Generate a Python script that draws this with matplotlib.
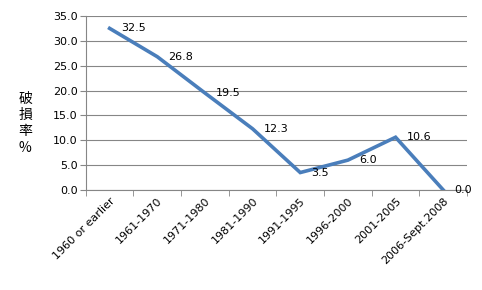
import numpy as np
import matplotlib.pyplot as plt

plt.rcParams['font.family'] = ['Noto Sans CJK TC', 'DejaVu Sans']

periods = ['1960 or earlier', '1961-1970', '1971-1980', '1981-1990',
           '1991-1995', '1996-2000', '2001-2005', '2006-Sept.2008']
rate = [32.5, 26.8, 19.5, 12.3, 3.5, 6.0, 10.6, 0.0]
yticks = [0, 5, 10, 15, 20, 25, 30, 35]

fig = plt.figure(figsize=(4.82, 2.9), dpi=100)
ax = fig.add_axes([0.178, 0.345, 0.791, 0.6])

x = np.arange(len(periods))
ax.plot(x, rate, color='#4A7EBB', lw=2.6, solid_joinstyle='miter', zorder=3)
for xi, v in zip(x, rate):
    ax.annotate(f'{v:.1f}', (xi, v), xytext=(8, 0), textcoords='offset points',
                ha='left', va='center', fontsize=8, family='DejaVu Sans', zorder=4)

ax.set_xlim(-0.5, len(periods) - 0.5)
ax.set_ylim(0, 35)
ax.set_yticks(yticks)
ax.set_yticklabels([f'{t:.1f}' for t in yticks], fontsize=8, family='DejaVu Sans')
ax.yaxis.grid(True, color='#868686', lw=0.8)
ax.set_axisbelow(True)

ax.set_xticks(x)
ax.set_xticklabels(periods, rotation=45, ha='right', rotation_mode='anchor',
                   fontsize=8, family='DejaVu Sans')
ax.tick_params(axis='x', length=0, pad=4)
ax.set_xticks(np.arange(len(periods) + 1) - 0.5, minor=True)
ax.tick_params(axis='x', which='minor', length=4, color='#868686')
ax.tick_params(axis='y', length=4, color='#868686', pad=2)

for s in ['top', 'right']:
    ax.spines[s].set_visible(False)
ax.spines['left'].set_color('#868686')
ax.spines['bottom'].set_color('#868686')

fig.text(0.052, 0.575, '破\n損\n率\n%', ha='center', va='center', fontsize=10,
         linespacing=1.2)

fig.savefig('out.png', dpi=100)
